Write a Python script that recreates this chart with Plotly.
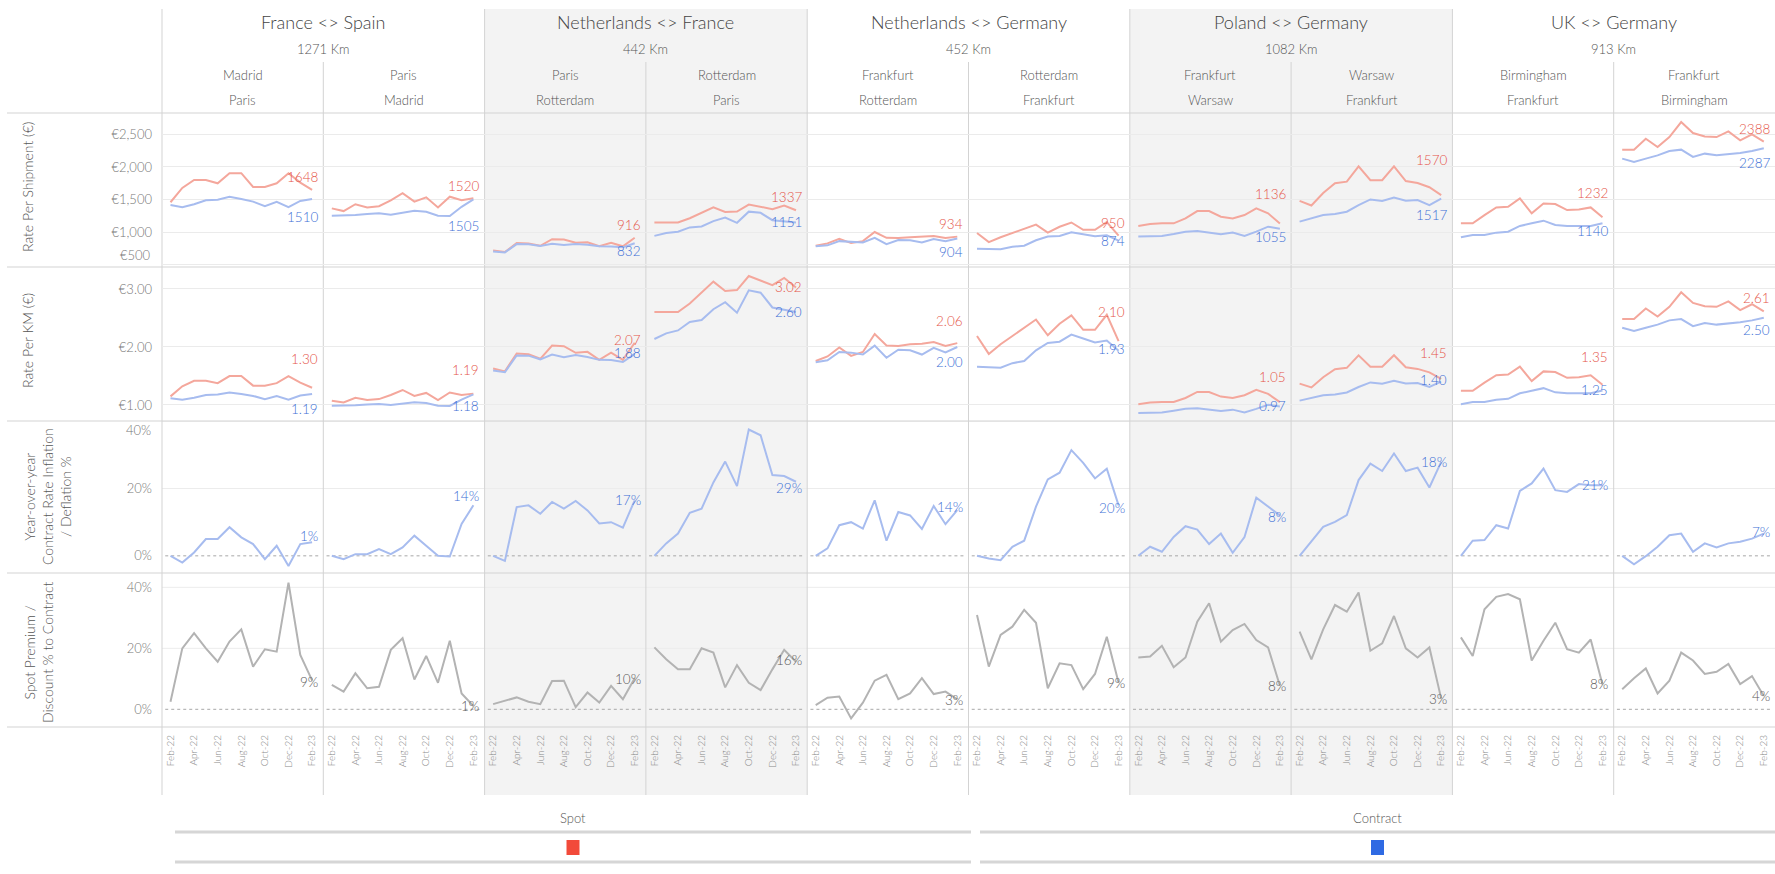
import plotly.graph_objects as go

W, H = 1775, 874

# ---------------- data ----------------
months = ["Feb-22", "Mar-22", "Apr-22", "May-22", "Jun-22", "Jul-22", "Aug-22",
          "Sep-22", "Oct-22", "Nov-22", "Dec-22", "Jan-23", "Feb-23"]
tick_months = ["Feb-22", "Apr-22", "Jun-22", "Aug-22", "Oct-22", "Dec-22", "Feb-23"]

corridors = ["France <> Spain", "Netherlands <> France", "Netherlands <> Germany",
             "Poland <> Germany", "UK <> Germany"]
corridor_km = [1271, 442, 452, 1082, 913]
origins = ["Madrid", "Paris", "Paris", "Rotterdam", "Frankfurt", "Rotterdam",
           "Frankfurt", "Warsaw", "Birmingham", "Frankfurt"]
destinations = ["Paris", "Madrid", "Rotterdam", "Paris", "Rotterdam", "Frankfurt",
                "Warsaw", "Frankfurt", "Frankfurt", "Birmingham"]

spot_per_shipment = [
    [1460, 1680, 1800, 1800, 1750, 1905, 1905, 1695, 1695, 1750, 1905, 1760, 1648],
    [1366, 1325, 1430, 1380, 1400, 1490, 1600, 1470, 1535, 1380, 1545, 1490, 1520],
    [720, 698, 835, 828, 794, 895, 890, 840, 847, 786, 840, 786, 916],
    [1150, 1150, 1150, 1215, 1295, 1382, 1310, 1318, 1425, 1390, 1355, 1410, 1337],
    [795, 830, 900, 835, 865, 1005, 915, 912, 925, 930, 942, 912, 934],
    [990, 850, 925, 990, 1052, 1118, 995, 1085, 1150, 1038, 1038, 1155, 950],
    [1097, 1127, 1137, 1137, 1213, 1325, 1325, 1239, 1213, 1264, 1366, 1290, 1136],
    [1480, 1410, 1600, 1750, 1775, 2008, 1797, 1797, 2010, 1785, 1755, 1690, 1570],
    [1137, 1137, 1264, 1381, 1391, 1518, 1290, 1442, 1432, 1340, 1350, 1381, 1232],
    [2265, 2265, 2433, 2306, 2458, 2687, 2519, 2468, 2458, 2544, 2407, 2499, 2388],
]
contract_per_shipment = [
    [1417, 1385, 1430, 1490, 1500, 1545, 1510, 1470, 1400, 1465, 1385, 1480, 1510],
    [1255, 1255, 1265, 1280, 1290, 1270, 1300, 1330, 1315, 1255, 1250, 1390, 1505],
    [705, 692, 820, 818, 790, 826, 806, 822, 808, 786, 784, 770, 832],
    [945, 988, 1010, 1075, 1090, 1172, 1225, 1145, 1316, 1298, 1185, 1170, 1151],
    [785, 800, 865, 860, 845, 915, 820, 883, 878, 845, 898, 862, 904],
    [750, 748, 742, 778, 795, 878, 935, 945, 1000, 970, 940, 955, 874],
    [934, 944, 944, 975, 1010, 1020, 995, 970, 995, 944, 1010, 1086, 1055],
    [1163, 1213, 1264, 1279, 1315, 1417, 1503, 1478, 1533, 1483, 1493, 1417, 1517],
    [924, 959, 959, 995, 1010, 1097, 1137, 1178, 1112, 1097, 1097, 1097, 1140],
    [2128, 2077, 2128, 2178, 2245, 2265, 2153, 2204, 2178, 2194, 2214, 2245, 2287],
]
contract_yoy_pct = [
    [0, -2, 1, 5, 5, 8.5, 5.5, 3.5, -1, 3, -3, 3.5, 4],
    [0, -1, 0.5, 0.5, 2, 0.5, 2.5, 6, 3, 0, -0.2, 9.5, 15],
    [0, -1.5, 14.5, 15, 12.5, 16, 14, 16.3, 13.5, 9.6, 10, 8.4, 16.5],
    [0, 3.7, 6.6, 12.8, 14, 21.8, 28, 20.7, 37.5, 35.8, 24, 23.7, 22],
    [0, 2.2, 9.1, 10, 8.1, 16.5, 4.5, 13, 12, 8, 14.8, 9.4, 13.6],
    [0, -0.8, -1.3, 2.7, 4.5, 14.6, 22.7, 24.7, 31.4, 27.6, 23, 25.9, 15],
    [0, 2.7, 1.2, 5.6, 8.8, 7.8, 3.5, 6.6, 0.9, 5.6, 17.3, 14.6, 12],
    [0, 4.2, 8.6, 10.1, 12.1, 22.5, 27.4, 25.2, 30.4, 25.2, 26.2, 20.3, 27.9],
    [0, 4.5, 4.7, 9.1, 8.1, 19.3, 21.5, 25.9, 19.5, 19, 21.3, 21, 21],
    [0, -2.5, -0.1, 2.7, 6.1, 6.6, 1.2, 3.7, 2.5, 3.7, 4.2, 5.1, 6.6],
]
spot_premium_pct = [
    [2.5, 20, 25, 20, 15.6, 22.2, 26.2, 14, 19.7, 18.9, 41.5, 17.8, 9.5],
    [8, 5.8, 11.8, 6.9, 7.4, 19.5, 23.3, 9.8, 17.5, 8.7, 22.5, 5.2, 1.1],
    [1.7, 2.8, 3.9, 2.5, 1.7, 9.3, 9.4, 0.7, 5.5, 2.2, 7.7, 3.3, 10.2],
    [20.3, 16.4, 13.1, 13.1, 20, 18.6, 7.2, 14.5, 8.7, 6.3, 13.1, 19.5, 15.6],
    [1.4, 3.8, 4.2, -3, 2.2, 9.4, 11.3, 3.3, 5.2, 10.2, 5, 5.8, 3.3],
    [30.9, 14, 24.4, 27.1, 32.6, 28.4, 6.9, 15.1, 14.5, 6.6, 11.6, 23.8, 8.7],
    [17, 17.3, 20.8, 13.8, 17, 28.7, 34.8, 22.2, 26, 28, 22.7, 20.3, 7.7],
    [25.5, 16.4, 26.2, 34.2, 32, 38.3, 19.2, 21.6, 30.6, 20, 17, 20.3, 3.5],
    [23.6, 17.5, 32.8, 36.9, 37.8, 36.1, 16, 22.5, 28.4, 19.7, 18.6, 22.9, 8.1],
    [6.6, 10.2, 13.4, 5.2, 9.4, 18.6, 16, 11.6, 12.3, 14.9, 8.3, 10.9, 4.4],
]

spot_labels = ["1648", "1520", "916", "1337", "934", "950", "1136", "1570", "1232", "2388"]
contract_labels = ["1510", "1505", "832", "1151", "904", "874", "1055", "1517", "1140", "2287"]
spot_km_labels = ["1.30", "1.19", "2.07", "3.02", "2.06", "2.10", "1.05", "1.45", "1.35", "2.61"]
contract_km_labels = ["1.19", "1.18", "1.88", "2.60", "2.00", "1.93", "0.97", "1.40", "1.25", "2.50"]
yoy_labels = ["1%", "14%", "17%", "29%", "14%", "20%", "8%", "18%", "21%", "7%"]
premium_labels = ["9%", "1%", "10%", "16%", "3%", "9%", "8%", "3%", "8%", "4%"]

row_titles = ["Rate Per Shipment (€)", "Rate Per KM (€)",
              "Year-over-year<br>Contract Rate Inflation<br>/ Deflation %",
              "Spot Premium /<br>Discount % to Contract"]
row1_ticks = [500, 1000, 1500, 2000, 2500]
row1_ticktext = ["€500", "€1,000", "€1,500", "€2,000", "€2,500"]
row2_ticks = [1, 2, 3]
row2_ticktext = ["€1.00", "€2.00", "€3.00"]
pct_ticks = [0, 20, 40]
pct_ticktext = ["0%", "20%", "40%"]

# ---------------- style / layout ----------------
FONT = "Lato, 'Open Sans', sans-serif"
WEIGHT = 300
SPOT_LINE = "#f4a79c"
CONTRACT_LINE = "#a7bcef"
SPOT_TXT = "#e5564a"
CONTRACT_TXT = "#3d6fd6"
PREM_LINE = "#b3b3b3"
PREM_TXT = "#5a5a5a"
SEP = "#d3d3d3"
TICK_COL = "#777777"
LAB_SIZE = 13.5

LEFT = 162.0
PW = (W - LEFT) / 10.0
ROW_TOP = [113, 267, 421, 573]
ROW_BOT = [267, 421, 573, 727]
row_ranges = [[469, 2826], [0.724, 3.379], [-5.1, 40.05], [-5.8, 44.7]]
xrange_ = [-0.72, 12.95]

# label offsets (px, + = up)
spot_yshift = [13, 12, 13, 13, 13, 13, 29, 35, 24, 13]
contract_yshift = [-18, -27, -8, 0, -13, 0, -8, -16, -8, -15]
spot_km_yshift = [29, 24, 3, 1, 22, 29, 25, 26, 28, 13]
contract_km_yshift = [-15, -12, 1, 0, -15, 2, 0, 2, 1, -12]
yoy_yshift = [6, 9, 0, -6, 3, -3, -2, 0, 0, 2]
prem_yshift = [-2, 0, -1, 2, -1, 0, 0, 0, 1, 0]
# tick labels that the reference nudges inside the pane (row, tick index, px shift, + = up)
nudged_ticks = [(0, 0, 10), (2, 2, -9)]


def px(x):
    return x / W


def py(y):
    return 1 - y / H


def fnt(size, color):
    return dict(size=size, color=color, family=FONT, weight=WEIGHT)


fig = go.Figure()
layout = {}
annotations = []
shapes = []

# background shading for alternate corridors
for g in (1, 3):
    x0 = LEFT + 2 * g * PW
    shapes.append(dict(type="rect", xref="paper", yref="paper", x0=px(x0), x1=px(x0 + 2 * PW),
                       y0=py(795), y1=py(9), fillcolor="#f3f3f3", line=dict(width=0), layer="below"))

row_tick_defs = [(row1_ticks, row1_ticktext, True), (row2_ticks, row2_ticktext, True),
                 (pct_ticks, pct_ticktext, False), (pct_ticks, pct_ticktext, False)]

for p in range(10):
    km = corridor_km[p // 2]
    series_rows = [
        [(spot_per_shipment[p], SPOT_LINE), (contract_per_shipment[p], CONTRACT_LINE)],
        [([v / km for v in spot_per_shipment[p]], SPOT_LINE),
         ([v / km for v in contract_per_shipment[p]], CONTRACT_LINE)],
        [(contract_yoy_pct[p], CONTRACT_LINE)],
        [(spot_premium_pct[p], PREM_LINE)],
    ]
    for r in range(4):
        n = r * 10 + p + 1
        xa = "xaxis" if n == 1 else f"xaxis{n}"
        ya = "yaxis" if n == 1 else f"yaxis{n}"
        xr = "x" if n == 1 else f"x{n}"
        yr = "y" if n == 1 else f"y{n}"
        x0 = LEFT + p * PW
        layout[xa] = dict(domain=[px(x0), px(x0 + PW)], anchor=yr, type="category",
                          categoryorder="array", categoryarray=months, range=xrange_,
                          showgrid=False, zeroline=False, showline=False, ticks="",
                          tickmode="array", tickvals=tick_months, showticklabels=(r == 3),
                          tickangle=-90, tickfont=fnt(10, "#888888"),
                          ticklabelstandoff=5, fixedrange=True)
        tv, tt, grid = row_tick_defs[r]
        shown_text = list(tt)
        for (nr, ti, sh) in nudged_ticks:
            if nr == r:
                shown_text[ti] = ""
        layout[ya] = dict(domain=[py(ROW_BOT[r]), py(ROW_TOP[r])], anchor=xr, range=row_ranges[r],
                          tickmode="array", tickvals=tv, ticktext=shown_text, showticklabels=(p == 0),
                          showgrid=grid, gridcolor="#ebebeb", gridwidth=1, zeroline=False,
                          showline=False, ticks="", ticklabelstandoff=9,
                          tickfont=fnt(13, TICK_COL), fixedrange=True)
        if p == 0:
            for (nr, ti, sh) in nudged_ticks:
                if nr == r:
                    annotations.append(dict(x=0, xref="x domain" if n == 1 else f"{xr} domain",
                                            y=tv[ti], yref=yr, text=tt[ti], showarrow=False,
                                            xanchor="right", yanchor="middle", xshift=-9, yshift=sh,
                                            font=fnt(13, TICK_COL)))
        if r >= 2:
            for gv in (20, 40):
                shapes.append(dict(type="line", xref=f"{xr} domain", yref=yr, x0=0, x1=1, y0=gv, y1=gv,
                                   line=dict(color="#ececec", width=1), layer="below"))
            shapes.append(dict(type="line", xref=f"{xr} domain", yref=yr, x0=0.02, x1=0.98, y0=0, y1=0,
                               line=dict(color="#a8a8a8", width=1, dash="dot"), layer="below"))
        for vals, col in series_rows[r]:
            fig.add_trace(go.Scatter(x=months, y=vals, mode="lines", xaxis=xr, yaxis=yr,
                                     line=dict(color=col, width=2), showlegend=False, hoverinfo="skip"))

        def lab(text, yv, color, ys):
            annotations.append(dict(x=months[-1], y=yv, xref=xr, yref=yr, text=text, showarrow=False,
                                    xanchor="right", yanchor="middle", xshift=8, yshift=ys,
                                    font=fnt(LAB_SIZE, color)))
        if r == 0:
            lab(spot_labels[p], spot_per_shipment[p][-1], SPOT_TXT, spot_yshift[p])
            lab(contract_labels[p], contract_per_shipment[p][-1], CONTRACT_TXT, contract_yshift[p])
        elif r == 1:
            lab(spot_km_labels[p], spot_per_shipment[p][-1] / km, SPOT_TXT, spot_km_yshift[p])
            lab(contract_km_labels[p], contract_per_shipment[p][-1] / km, CONTRACT_TXT, contract_km_yshift[p])
        elif r == 2:
            lab(yoy_labels[p], contract_yoy_pct[p][-1], CONTRACT_TXT, yoy_yshift[p])
        else:
            lab(premium_labels[p], spot_premium_pct[p][-1], PREM_TXT, prem_yshift[p])

# separators
for yv in [113, 267, 421, 573, 727]:
    shapes.append(dict(type="line", xref="paper", yref="paper", x0=px(7), x1=1, y0=py(yv), y1=py(yv),
                       line=dict(color=SEP, width=1), layer="below"))
for p in range(10):
    xv = LEFT + p * PW
    top = 9 if p % 2 == 0 else 62
    shapes.append(dict(type="line", xref="paper", yref="paper", x0=px(xv), x1=px(xv), y0=py(795), y1=py(top),
                       line=dict(color=SEP, width=1), layer="below"))

# header texts
for g in range(5):
    cx = LEFT + (2 * g + 1) * PW
    annotations.append(dict(x=px(cx), y=py(22), xref="paper", yref="paper", text=corridors[g],
                            showarrow=False, xanchor="center", yanchor="middle",
                            font=fnt(18, "#444444")))
    annotations.append(dict(x=px(cx), y=py(49), xref="paper", yref="paper", text=f"{corridor_km[g]} Km",
                            showarrow=False, xanchor="center", yanchor="middle",
                            font=fnt(13, "#555555")))
for p in range(10):
    cx = LEFT + (p + 0.5) * PW
    annotations.append(dict(x=px(cx), y=py(75), xref="paper", yref="paper", text=origins[p],
                            showarrow=False, xanchor="center", yanchor="middle",
                            font=fnt(13, "#555555")))
    annotations.append(dict(x=px(cx), y=py(100), xref="paper", yref="paper", text=destinations[p],
                            showarrow=False, xanchor="center", yanchor="middle",
                            font=fnt(13, "#555555")))

# row titles
title_pos = [(27, 187), (27, 341), (47, 497), (38, 652)]
for r in range(4):
    annotations.append(dict(x=px(title_pos[r][0]), y=py(title_pos[r][1]), xref="paper", yref="paper",
                            text=row_titles[r], textangle=-90, showarrow=False, align="center",
                            xanchor="center", yanchor="middle",
                            font=fnt(14, "#555555")))

# legend
legend_items = [("Spot", "#f24a3a", 175, 971), ("Contract", "#2f6ae3", 980, 1775)]
for name, col, x0, x1 in legend_items:
    cx = (x0 + x1) / 2
    annotations.append(dict(x=px(cx), y=py(818), xref="paper", yref="paper", text=name, showarrow=False,
                            xanchor="center", yanchor="middle", font=fnt(13, "#555555")))
    for yv in (832, 862):
        shapes.append(dict(type="line", xref="paper", yref="paper", x0=px(x0), x1=px(x1), y0=py(yv), y1=py(yv),
                           line=dict(color="#d6d6d6", width=3)))
    shapes.append(dict(type="rect", xref="paper", yref="paper", x0=px(cx - 6.5), x1=px(cx + 6.5),
                       y0=py(855), y1=py(840), fillcolor=col, line=dict(width=0)))

fig.update_layout(width=W, height=H, margin=dict(l=0, r=0, t=0, b=0),
                  paper_bgcolor="white", plot_bgcolor="rgba(0,0,0,0)",
                  font=dict(family=FONT, color="#555555"),
                  annotations=annotations, shapes=shapes, showlegend=False, **layout)

fig.write_html("out.html", config={"displayModeBar": False},
               post_script="document.body.style.margin='0';document.body.style.overflow='hidden';")
